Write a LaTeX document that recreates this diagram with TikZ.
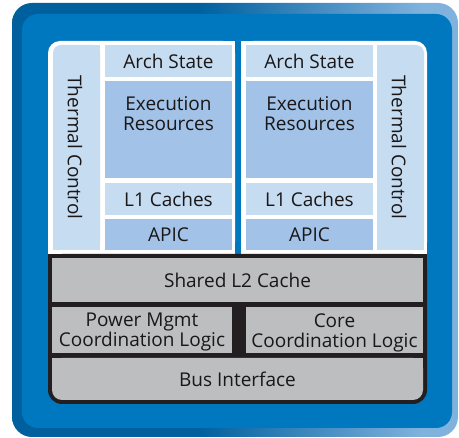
\documentclass[tikz,border=0pt]{standalone}
\usepackage{fontspec}
\setmainfont{Open Sans}
\definecolor{fdark}{HTML}{00609E}
\definecolor{flight}{HTML}{80B2DE}
\definecolor{fmid}{HTML}{0078C0}
\definecolor{lb}{HTML}{C6DCF1}
\definecolor{mb}{HTML}{A2C2E7}
\definecolor{gr}{HTML}{BCBEC0}
\definecolor{bk}{HTML}{231F20}
\definecolor{tx}{HTML}{1A1718}
\pgfdeclarehorizontalshading{frameshade}{100bp}{color(0bp)=(fdark); color(46bp)=(fdark); color(71bp)=(flight); color(100bp)=(flight)}
\begin{document}
\begin{tikzpicture}[x=1pt,y=-1pt,
  lbl/.style={font=\fontsize{19}{20}\selectfont, text=tx, inner sep=0pt, align=center},
  cell/.style={rectangle, inner sep=0pt, minimum width=127pt, font=\fontsize{19}{20}\selectfont, text=tx}]
\useasboundingbox (0,0) rectangle (459,438);
% frame
\shade[shading=frameshade, rounded corners=20] (12,3) rectangle (458,437);
\fill[fmid, rounded corners=16] (22,14) rectangle (452,428);
% white panels
\fill[white, rounded corners=12] (48,41) rectangle (235,254);
\fill[white] (70,41) rectangle (235,254);
\fill[white] (48,60) rectangle (235,254);
\fill[white, rounded corners=12] (241,41) rectangle (427,254);
\fill[white] (241,41) rectangle (405,254);
\fill[white] (241,60) rectangle (427,254);
% thermal columns
\fill[lb, rounded corners=8] (53,45) rectangle (100,250);
\fill[lb] (65,45) rectangle (100,250);
\fill[lb] (53,57) rectangle (100,250);
\fill[lb, rounded corners=8] (377,45) rectangle (424,250);
\fill[lb] (377,45) rectangle (412,250);
\fill[lb] (377,57) rectangle (424,250);
\node[lbl, rotate=-90] (thermL) at (75,147.5) {Thermal Control};
\node[lbl, rotate=-90] (thermR) at (399,147.5) {Thermal Control};
% left core
\node[cell, fill=lb, minimum height=32pt] (archL) at (168.5,61) {Arch State};
\node[cell, fill=mb, minimum height=97pt] (execL) at (168.5,129.5) {};
\node[lbl] (execLt) at (168.5,113.8) {Execution\\Resources};
\node[cell, fill=lb, minimum height=32pt] (l1L) at (168.5,199) {L1 Caches};
\node[cell, fill=mb, minimum height=31pt] (apicL) at (168.5,234.5) {APIC};
% right core
\node[cell, fill=lb, minimum height=32pt] (archR) at (309.5,61) {Arch State};
\node[cell, fill=mb, minimum height=97pt] (execR) at (309.5,129.5) {};
\node[lbl] (execRt) at (309.5,113.8) {Execution\\Resources};
\node[cell, fill=lb, minimum height=32pt] (l1R) at (309.5,199) {L1 Caches};
\node[cell, fill=mb, minimum height=31pt] (apicR) at (309.5,234.5) {APIC};
% shared section
\fill[bk, rounded corners=14] (48,254) rectangle (427,404);
\fill[bk] (48,254) rectangle (427,380);
\node[rectangle, fill=gr, inner sep=0pt, minimum width=371pt, minimum height=44pt, lbl] (l2) at (237.5,280) {Shared L2 Cache};
\node[rectangle, fill=gr, inner sep=0pt, minimum width=180pt, minimum height=46pt] (pm) at (142,330) {};
\node[lbl] (pmt) at (142,332.5) {Power Mgmt\\Coordination Logic};
\node[rectangle, fill=gr, inner sep=0pt, minimum width=177pt, minimum height=46pt] (cc) at (334.5,330) {};
\node[lbl] (cct) at (334.5,332.5) {Core\\Coordination Logic};
\fill[gr, rounded corners=10] (52,358) rectangle (423,400);
\fill[gr] (52,358) rectangle (423,385);
\node[lbl] (bus) at (237.5,379) {Bus Interface};
\end{tikzpicture}
\end{document}
